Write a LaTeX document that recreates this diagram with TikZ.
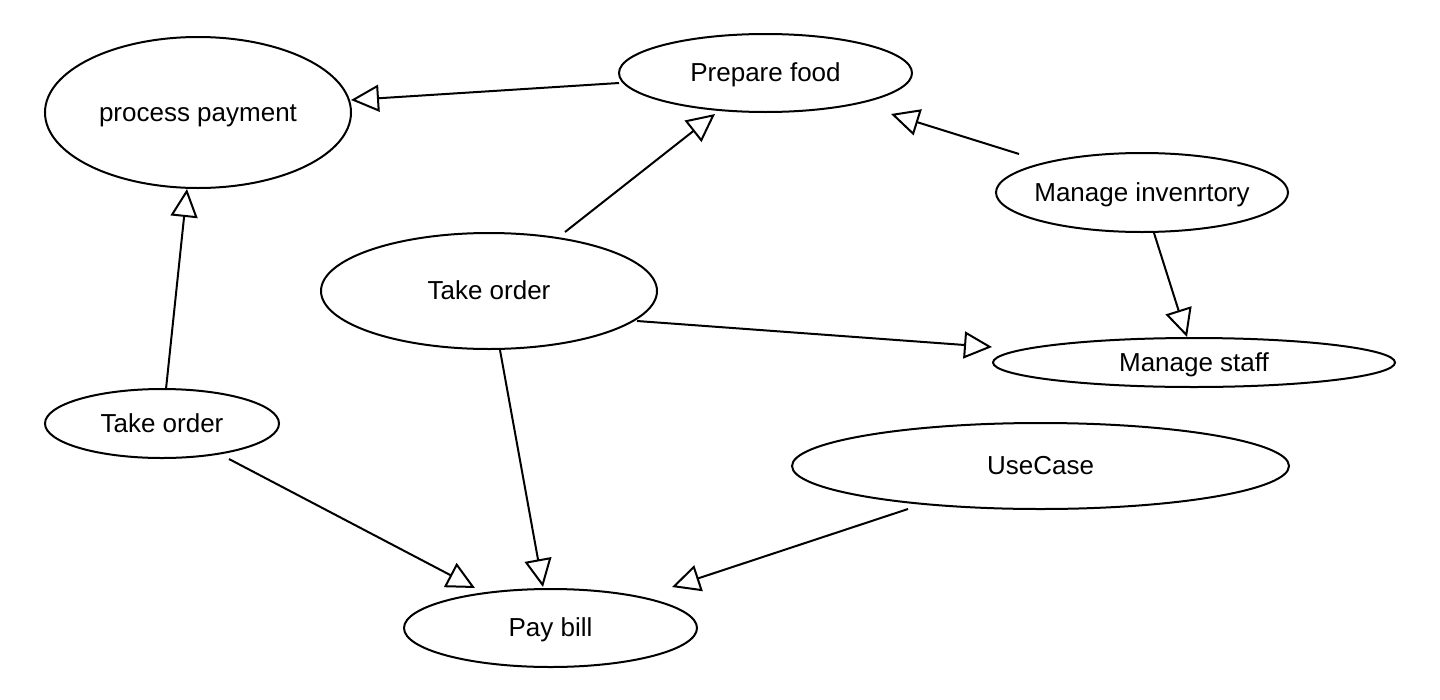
\documentclass[tikz,border=0pt]{standalone}
\usepackage{fontspec}
\setmainfont{Liberation Sans}
\usetikzlibrary{arrows.meta,shapes.geometric}
\newcommand{\uctext}[1]{\makebox[0pt]{#1}}
\begin{document}
\begin{tikzpicture}[x=1pt,y=-1pt,
  uc/.style={ellipse,draw,line width=2pt,inner sep=0pt,font=\fontsize{26}{30}\selectfont,text height=20pt,text depth=3pt},
  gen/.style={line width=2pt,-{Triangle[open,length=28pt,width=27pt]}}]
\useasboundingbox (0,0) rectangle (1440,699);
\fill[white] (0,0) rectangle (1440,699);
\node[uc,minimum width=306pt,minimum height=151pt] (pp) at (198,112.5) {\uctext{process payment}};
\node[uc,minimum width=293pt,minimum height=78pt] (pf) at (765.5,73) {\uctext{Prepare food}};
\node[uc,minimum width=292pt,minimum height=79pt] (mi) at (1142,192.5) {\uctext{Manage invenrtory}};
\node[uc,minimum width=336pt,minimum height=116pt] (tob) at (489,291) {\uctext{Take order}};
\node[uc,minimum width=402pt,minimum height=49pt] (ms) at (1194,362.5) {\uctext{Manage staff}};
\node[uc,minimum width=234pt,minimum height=69pt] (tos) at (162,423.5) {\uctext{Take order}};
\node[uc,minimum width=497pt,minimum height=86pt] (usec) at (1040.5,466) {\uctext{UseCase}};
\node[uc,minimum width=293pt,minimum height=78pt] (pb) at (550.5,628) {\uctext{Pay bill}};
% connector ends
\coordinate (pf-s1) at (619,83);
\coordinate (pp-e1) at (351,100);
\coordinate (tob-s1) at (565,232);
\coordinate (pf-e1) at (715,114);
\coordinate (mi-s1) at (1019,154);
\coordinate (pf-e2) at (891,114);
\coordinate (mi-s2) at (1154,233);
\coordinate (ms-e1) at (1187,337);
\coordinate (tob-s2) at (637,321);
\coordinate (ms-e2) at (992,347);
\coordinate (tob-s3) at (500,350);
\coordinate (pb-e1) at (543,587);
\coordinate (tos-s1) at (166,389);
\coordinate (pp-e2) at (187,189);
\coordinate (tos-s2) at (229,459);
\coordinate (pb-e2) at (475,588);
\coordinate (usec-s1) at (908,509);
\coordinate (pb-e3) at (672,587);
\draw[gen] (pf-s1) -- (pp-e1);
\draw[gen] (tob-s1) -- (pf-e1);
\draw[gen] (mi-s1) -- (pf-e2);
\draw[gen] (mi-s2) -- (ms-e1);
\draw[gen] (tob-s2) -- (ms-e2);
\draw[gen] (tob-s3) -- (pb-e1);
\draw[gen] (tos-s1) -- (pp-e2);
\draw[gen] (tos-s2) -- (pb-e2);
\draw[gen] (usec-s1) -- (pb-e3);
\end{tikzpicture}
\end{document}
